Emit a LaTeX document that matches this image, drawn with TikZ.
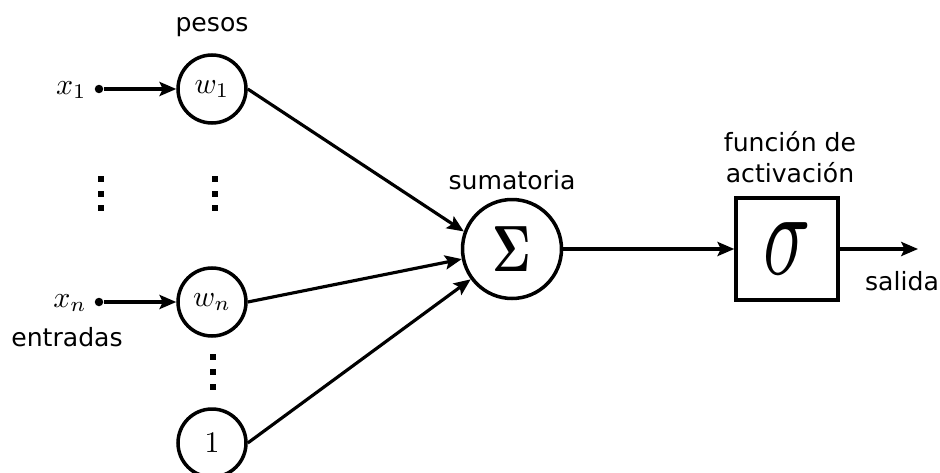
\documentclass[tikz,border=0pt]{standalone}
\usepackage[no-math]{fontspec}
\usepackage{graphicx}
\newfontfamily\labelfont{DejaVu Sans}
\usetikzlibrary{arrows.meta}
% enlarged math set at its normal design size
\newcommand\bigmath[1]{\scalebox{1.7}{$#1$}}
\begin{document}
\begin{tikzpicture}[x=0.02cm,y=-0.02cm,
  neuron/.style={circle,draw,line width=2pt,minimum size=1.36cm,inner sep=0pt},
  sumnode/.style={circle,draw,line width=2pt,minimum size=1.98cm,inner sep=0pt},
  actbox/.style={rectangle,draw,line width=2pt,minimum size=2.04cm,inner sep=0pt},
  inputdot/.style={circle,fill,minimum size=0.17cm,inner sep=0pt},
  mathlabel/.style={inner sep=0pt},
  textlabel/.style={inner sep=0pt,align=center,font=\labelfont\fontsize{14.3}{18}\selectfont},
  arrow/.style={line width=1.8pt,-{Stealth[length=9.5pt,width=8pt,inset=1.8pt]}},
  vdot/.style={fill,minimum size=0.13cm,inner sep=0pt,rectangle}]
\useasboundingbox (0,0) rectangle (940,473);

% inputs
\node[inputdot] (d1) at (99,89) {};
\node[inputdot] (dn) at (99,302) {};
\node[mathlabel,anchor=east] (x1) at (87,90) {\bigmath{x_1}};
\node[mathlabel,anchor=east] (xn) at (87,303) {\bigmath{x_n}};
\node[textlabel] (entradas) at (67,337) {entradas};

% weights
\node[neuron] (w1) at (212,89) {\bigmath{w_1}};
\node[neuron] (wn) at (212,302) {\bigmath{w_n}};
\node[neuron] (one) at (212,443) {\bigmath{1}};
\node[textlabel] (pesos) at (212,27) {pesos};

% vertical ellipses
\foreach \y in {179,194,208} {
  \node[vdot] at (101,\y) {};
  \node[vdot] at (215,\y) {};
}
\foreach \y in {357,372,387} {
  \node[vdot] at (213,\y) {};
}

% summation
\node[sumnode] (sigma) at (512,249) {\resizebox{22pt}{25.5pt}{$\mathbf{\Sigma}$}};
\node[textlabel] (sumlabel) at (512,180) {sumatoria};

% activation
\node[actbox] (act) at (787,249) {\resizebox{27pt}{29.5pt}{$\sigma$}};
\node[textlabel] (actlabel) at (790,157) {función de\\activación};
\coordinate (out) at (918,249);
\node[textlabel] (salida) at (902,281) {salida};

% connectors
\draw[arrow] (d1) -- (w1);
\draw[arrow] (dn) -- (wn);
\draw[arrow] (w1.east) -- (sigma.160);
\draw[arrow] (wn.east) -- (sigma);
\draw[arrow] (one.east) -- (sigma);
\draw[arrow] (sigma) -- (act);
\draw[arrow] (act) -- (out);
\end{tikzpicture}
\end{document}
